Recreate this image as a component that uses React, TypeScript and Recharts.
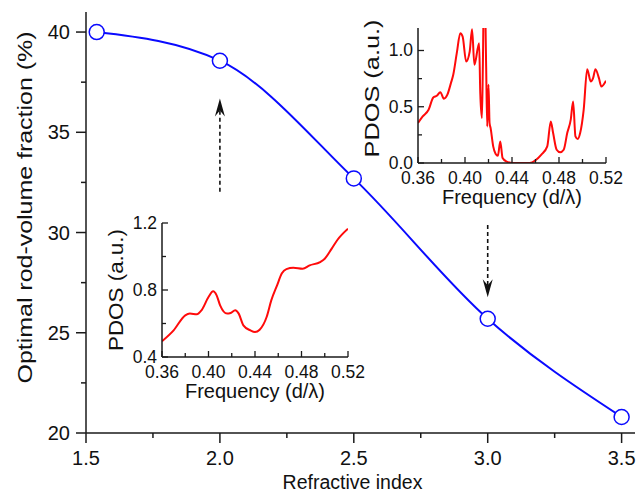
import React from 'react';
import { LineChart, Line, XAxis, YAxis, ReferenceLine } from 'recharts';

// ---------- main chart data ----------
const refractiveIndex = [1.54, 2.0, 2.5, 3.0, 3.5];
const rodFraction = [40.0, 38.57, 32.7, 25.7, 20.8];
const mainXTicks = [1.5, 1.75, 2.0, 2.25, 2.5, 2.75, 3.0, 3.25, 3.5];
const mainXMajor = [1.5, 2.0, 2.5, 3.0, 3.5];
const mainYTicks = [20, 22.5, 25, 27.5, 30, 32.5, 35, 37.5, 40];
const mainYMajor = [20, 25, 30, 35, 40];

// arrows (refractive index, from fraction, to fraction)
const arrowIndex = [2.0, 3.0];
const arrowFrom = [32.03, 30.37];
const arrowTo = [36.69, 26.77];

// ---------- inset data ----------
const insetXTicks = [0.36, 0.38, 0.4, 0.42, 0.44, 0.46, 0.48, 0.5, 0.52];
const insetXMajor = [0.36, 0.4, 0.44, 0.48, 0.52];
const topInsetYTicks = [0, 0.25, 0.5, 0.75, 1.0];
const topInsetYMajor = [0, 0.5, 1.0];
const bottomInsetYTicks = [0.4, 0.6, 0.8, 1.0, 1.2];
const bottomInsetYMajor = [0.4, 0.8, 1.2];

const freqTop = [0.360, 0.364, 0.369, 0.373, 0.376, 0.379, 0.382, 0.385, 0.388, 0.390, 0.393, 0.396, 0.398, 0.401, 0.404, 0.406, 0.408, 0.412, 0.413, 0.4144, 0.4152, 0.4164, 0.418, 0.4189, 0.420, 0.4209, 0.4218, 0.424, 0.426, 0.428, 0.430, 0.432, 0.435, 0.441, 0.455, 0.460, 0.465, 0.470, 0.473, 0.475, 0.478, 0.481, 0.484, 0.487, 0.490, 0.492, 0.494, 0.496, 0.498, 0.501, 0.504, 0.507, 0.509, 0.511, 0.514, 0.516, 0.520];
const pdosTop = [0.355, 0.414, 0.473, 0.583, 0.598, 0.630, 0.571, 0.607, 0.710, 0.784, 0.976, 1.154, 1.124, 0.902, 0.991, 1.189, 0.873, 1.065, 0.62, 0.40, 0.86, 1.8, 0.86, 0.325, 0.695, 0.355, 0.31, 0.148, 0.083, 0.065, 0.192, 0.044, 0.015, 0, 0, 0.024, 0.074, 0.148, 0.370, 0.266, 0.118, 0.095, 0.118, 0.266, 0.385, 0.547, 0.237, 0.213, 0.266, 0.473, 0.834, 0.725, 0.754, 0.834, 0.754, 0.680, 0.731];

const freqBottom = [0.36, 0.37, 0.38, 0.384, 0.39, 0.394, 0.40, 0.404, 0.407, 0.41, 0.416, 0.419, 0.423, 0.426, 0.43, 0.436, 0.44, 0.444, 0.45, 0.454, 0.459, 0.463, 0.467, 0.473, 0.481, 0.487, 0.496, 0.50, 0.506, 0.511, 0.52];
const pdosBottom = [0.494, 0.559, 0.649, 0.659, 0.655, 0.679, 0.758, 0.792, 0.768, 0.708, 0.659, 0.663, 0.679, 0.659, 0.589, 0.559, 0.549, 0.563, 0.639, 0.738, 0.828, 0.898, 0.925, 0.933, 0.927, 0.947, 0.967, 0.987, 1.047, 1.100, 1.166];

const mainData = refractiveIndex.map((n, i) => ({ n, f: rodFraction[i] }));
const topData = freqTop.map((x, i) => ({ x, p: pdosTop[i] }));
const bottomData = freqBottom.map((x, i) => ({ x, p: pdosBottom[i] }));

const FONT = '"Liberation Sans", Arimo, Arial, Helvetica, sans-serif';
const AX = '#1a1a1a';
const TXT = '#111';
const BLUE = '#0a0aff';
const RED = '#ff0a0a';

const isMajor = (v: number, majors: number[]) => majors.some((m) => Math.abs(m - v) < 1e-6);

// ---------- custom ticks ----------
const MainXTick = (props: any) => {
  const { x, y, payload } = props;
  const v = payload.value;
  const major = isMajor(v, mainXMajor);
  return (
    <g>
      <line x1={x} y1={y} x2={x} y2={y + (major ? 10 : 5)} stroke={AX} strokeWidth={1.5} />
      {major && (
        <text x={x} y={y + 31.5} textAnchor="middle" fontSize={20} fontFamily={FONT} fill={TXT}>
          {v.toFixed(1)}
        </text>
      )}
    </g>
  );
};

const MainYTick = (props: any) => {
  const { x, y, payload } = props;
  const v = payload.value;
  const major = isMajor(v, mainYMajor);
  return (
    <g>
      <line x1={x - (major ? 10 : 5)} y1={y} x2={x} y2={y} stroke={AX} strokeWidth={1.5} />
      {major && (
        <text x={x - 16} y={y + 7} textAnchor="end" fontSize={20} fontFamily={FONT} fill={TXT}>
          {String(v)}
        </text>
      )}
    </g>
  );
};

const InsetXTick = (props: any) => {
  const { x, y, payload } = props;
  const v = payload.value;
  const major = isMajor(v, insetXMajor);
  return (
    <g>
      <line x1={x} y1={y} x2={x} y2={y - (major ? 6 : 4)} stroke={AX} strokeWidth={1.3} />
      {major && (
        <text x={x} y={y + 20.5} textAnchor="middle" fontSize={17.5} fontFamily={FONT} fill={TXT}>
          {v.toFixed(2)}
        </text>
      )}
    </g>
  );
};

const makeInsetYTick = (majors: number[]) => (props: any) => {
  const { x, y, payload } = props;
  const v = payload.value;
  const major = isMajor(v, majors);
  return (
    <g>
      <line x1={x} y1={y} x2={x + (major ? 6 : 4)} y2={y} stroke={AX} strokeWidth={1.3} />
      {major && (
        <text x={x - 5} y={y + 5.8} textAnchor="end" fontSize={17.5} fontFamily={FONT} fill={TXT}>
          {v.toFixed(1)}
        </text>
      )}
    </g>
  );
};
const TopInsetYTick = makeInsetYTick(topInsetYMajor);
const BottomInsetYTick = makeInsetYTick(bottomInsetYMajor);

// ---------- axis titles ----------
const XTitle = (text: string, size: number, dyBase: number, dxCenter = 0) => (props: any) => {
  const vb = props.viewBox || { x: 0, y: 0, width: 0, height: 0 };
  return (
    <text x={vb.x + vb.width / 2 + dxCenter} y={vb.y + dyBase} textAnchor="middle" fontSize={size} fontFamily={FONT} fill={TXT}>
      {text}
    </text>
  );
};

const YTitle = (text: string, size: number, offsetFromAxis: number, length: number, dyCenter: number) => (props: any) => {
  const vb = props.viewBox || { x: 0, y: 0, width: 0, height: 0 };
  const cx = vb.x + vb.width - offsetFromAxis;
  const cy = vb.y + vb.height / 2 + dyCenter;
  return (
    <text
      x={cx}
      y={cy}
      transform={`rotate(-90 ${cx} ${cy})`}
      textAnchor="middle"
      dominantBaseline="central"
      fontSize={size}
      fontFamily={FONT}
      fill={TXT}
      textLength={length}
      lengthAdjust="spacingAndGlyphs"
    >
      {text}
    </text>
  );
};

// ---------- arrow ----------
const ArrowShape = (props: any) => {
  const { x1, y1, x2, y2 } = props;
  const dx = x2 - x1;
  const dy = y2 - y1;
  const len = Math.hypot(dx, dy) || 1;
  const ux = dx / len;
  const uy = dy / len;
  const px = -uy;
  const py = ux;
  const L = 18;
  const W = 5;
  const N = 12;
  const bx = x2 - ux * L;
  const by = y2 - uy * L;
  const nx = x2 - ux * N;
  const ny = y2 - uy * N;
  const d = `M${x2},${y2} L${bx + px * W},${by + py * W} L${nx},${ny} L${bx - px * W},${by - py * W} Z`;
  return (
    <g>
      <line x1={x1} y1={y1} x2={nx} y2={ny} stroke="#111" strokeWidth={1.6} strokeDasharray="4 3" />
      <path d={d} fill="#111" />
    </g>
  );
};

const Inset = (props: {
  data: { x: number; p: number }[];
  yDomain: [number, number];
  yTicks: number[];
  YTick: any;
  left: number;
  top: number;
  width: number;
  height: number;
  margin: { top: number; right: number; left: number; bottom: number };
  yAxisWidth: number;
  xAxisHeight: number;
  yTitleLength: number;
  yTitleShift: number;
}) => {
  const { data, yDomain, yTicks, YTick, left, top, width, height, margin, yAxisWidth, xAxisHeight, yTitleLength, yTitleShift } = props;
  return (
    <div style={{ position: 'absolute', left, top, width, height }}>
      <LineChart width={width} height={height} data={data} margin={margin}>
        <XAxis
          type="number"
          dataKey="x"
          domain={[0.36, 0.52]}
          ticks={insetXTicks}
          interval={0}
          tick={<InsetXTick />}
          tickLine={false}
          tickSize={0}
          tickMargin={0}
          height={xAxisHeight}
          allowDataOverflow
          axisLine={{ stroke: AX, strokeWidth: 1.5 }}
          label={{ content: XTitle('Frequency (d/\u03bb)', 20, 41) }}
        />
        <YAxis
          type="number"
          domain={yDomain}
          ticks={yTicks}
          interval={0}
          tick={<YTick />}
          tickLine={false}
          tickSize={0}
          tickMargin={0}
          width={yAxisWidth}
          allowDataOverflow
          axisLine={{ stroke: AX, strokeWidth: 1.5 }}
          label={{ content: YTitle('PDOS (a.u.)', 21, 47, yTitleLength, yTitleShift) }}
        />
        <XAxis
          xAxisId="top"
          orientation="top"
          type="number"
          dataKey="x"
          domain={[0.36, 0.52]}
          ticks={insetXMajor}
          interval={0}
          height={0}
          mirror
          tick={false}
          tickSize={5}
          allowDataOverflow
          axisLine={{ stroke: AX, strokeWidth: 1.5 }}
          tickLine={{ stroke: AX, strokeWidth: 1.3 }}
        />
        <YAxis
          yAxisId="right"
          orientation="right"
          type="number"
          domain={yDomain}
          ticks={yTicks}
          interval={0}
          width={0}
          mirror
          tick={false}
          tickSize={5}
          allowDataOverflow
          axisLine={{ stroke: AX, strokeWidth: 1.5 }}
          tickLine={{ stroke: AX, strokeWidth: 1.3 }}
        />
        <Line dataKey="p" type="monotone" stroke={RED} strokeWidth={2} dot={false} isAnimationActive={false} />
      </LineChart>
    </div>
  );
};

export default function App() {
  return (
    <div style={{ position: 'absolute', left: 0, top: 0, width: 637, height: 493, background: '#fff', overflow: 'hidden' }}>
      <div style={{ position: 'absolute', left: 0, top: 0 }}>
        <LineChart width={637} height={493} data={mainData} margin={{ top: 12, right: 2, left: 0, bottom: 0 }}>
          <XAxis
            type="number"
            dataKey="n"
            domain={[1.5, 3.55]}
            ticks={mainXTicks}
            interval={0}
            tick={<MainXTick />}
            tickLine={false}
            tickSize={0}
            tickMargin={0}
            height={60}
            allowDataOverflow
            axisLine={{ stroke: AX, strokeWidth: 1.5 }}
            label={{ content: XTitle('Refractive index', 19.5, 56, -8) }}
          />
          <YAxis
            type="number"
            domain={[20, 41]}
            ticks={mainYTicks}
            interval={0}
            tick={<MainYTick />}
            tickLine={false}
            tickSize={0}
            tickMargin={0}
            width={86}
            allowDataOverflow
            axisLine={{ stroke: AX, strokeWidth: 1.5 }}
            label={{ content: YTitle('Optimal rod-volume fraction (%)', 21, 62, 352, -15) }}
          />
          <XAxis
            xAxisId="top"
            orientation="top"
            type="number"
            dataKey="n"
            domain={[1.5, 3.55]}
            ticks={mainXMajor}
            interval={0}
            height={0}
            mirror
            tick={false}
            tickSize={4}
            allowDataOverflow
            axisLine={{ stroke: AX, strokeWidth: 1.5 }}
            tickLine={{ stroke: AX, strokeWidth: 1.3 }}
          />
          <YAxis
            yAxisId="right"
            orientation="right"
            type="number"
            domain={[20, 41]}
            ticks={mainYMajor}
            interval={0}
            width={0}
            mirror
            tick={false}
            tickSize={4}
            allowDataOverflow
            axisLine={{ stroke: AX, strokeWidth: 1.5 }}
            tickLine={{ stroke: AX, strokeWidth: 1.3 }}
          />
          {arrowIndex.map((n, i) => (
            <ReferenceLine
              key={i}
              segment={[
                { x: n, y: arrowFrom[i] },
                { x: n, y: arrowTo[i] },
              ]}
              shape={ArrowShape}
            />
          ))}
          <Line
            dataKey="f"
            type="monotone"
            stroke={BLUE}
            strokeWidth={2}
            dot={{ r: 7.5, fill: '#fff', stroke: BLUE, strokeWidth: 1.5 }}
            isAnimationActive={false}
          />
        </LineChart>
      </div>
      <Inset
        data={topData}
        yDomain={[0, 1.2]}
        yTicks={topInsetYTicks}
        YTick={TopInsetYTick}
        left={340}
        top={0}
        width={297}
        height={215}
        margin={{ top: 28, right: 31, left: 0, bottom: 0 }}
        yAxisWidth={78}
        xAxisHeight={52}
        yTitleLength={138}
        yTitleShift={-7}
      />
      <Inset
        data={bottomData}
        yDomain={[0.4, 1.2]}
        yTicks={bottomInsetYTicks}
        YTick={BottomInsetYTick}
        left={80}
        top={200}
        width={290}
        height={210}
        margin={{ top: 23, right: 22, left: 0, bottom: 0 }}
        yAxisWidth={82}
        xAxisHeight={53}
        yTitleLength={122}
        yTitleShift={0}
      />
    </div>
  );
}
